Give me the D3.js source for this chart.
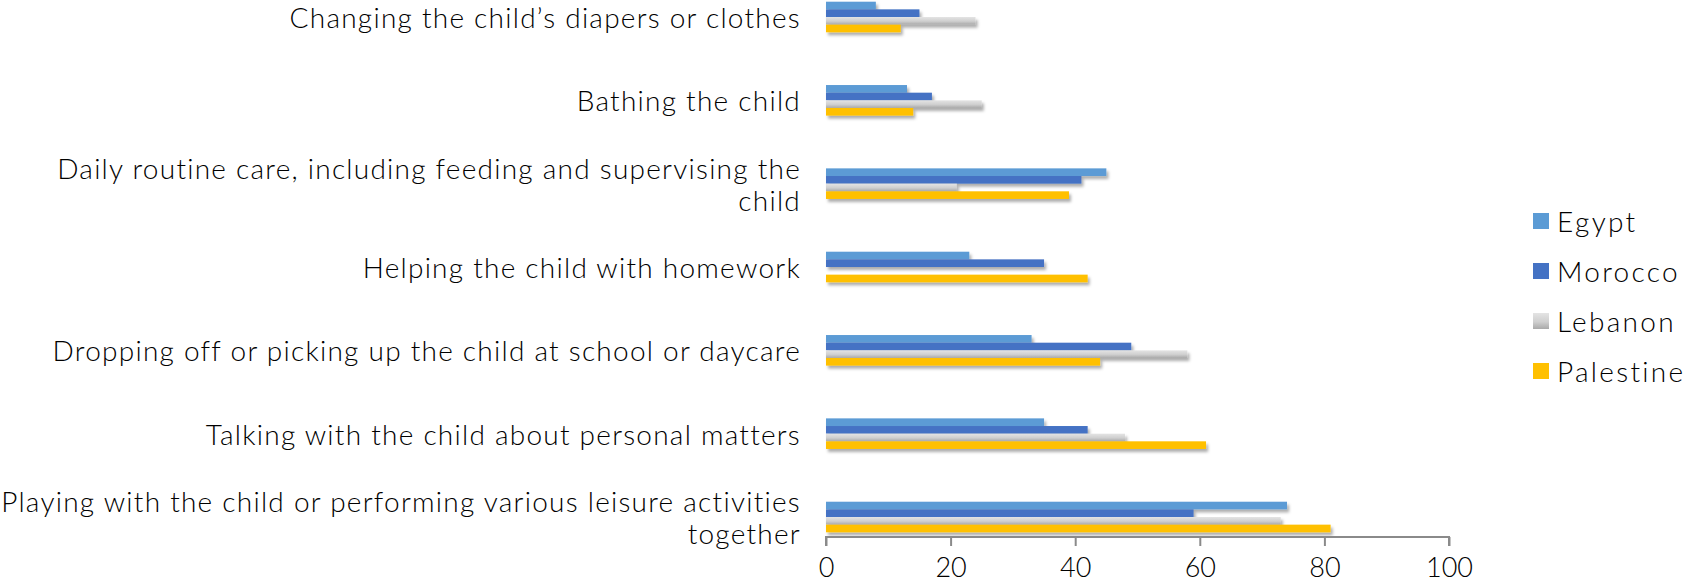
<!DOCTYPE html>
<html>
<head>
<meta charset="utf-8">
<script src="https://cdn.jsdelivr.net/npm/d3@7/dist/d3.min.js"></script>
<style>
  html, body { margin: 0; padding: 0; background: #fff; }
  svg { display: block; }
  text { font-family: Lato, "Open Sans", sans-serif; fill: #000; font-weight: 300; }
</style>
</head>
<body>
<svg id="chart" width="1688" height="587"></svg>
<script>
// Activities shown top to bottom; each label may wrap onto two lines.
const categories = [
  ["Changing the child\u2019s diapers or clothes"],
  ["Bathing the child"],
  ["Daily routine care, including feeding and supervising the", "child"],
  ["Helping the child with homework"],
  ["Dropping off or picking up the child at school or daycare"],
  ["Talking with the child about personal matters"],
  ["Playing with the child or performing various leisure activities", "together"]
];
const seriesNames = ["Egypt", "Morocco", "Lebanon", "Palestine"];
const egypt     = [8, 13, 45, 23, 33, 35, 74];
const morocco   = [15, 17, 41, 35, 49, 42, 59];
const lebanon   = [24, 25, 21, null, 58, 48, 73];
const palestine = [12, 14, 39, 42, 44, 61, 81];
const xTicks = [0, 20, 40, 60, 80, 100];

const seriesValues = [egypt, morocco, lebanon, palestine];
const colors = ["#5B9BD5", "#4472C4", "url(#lebGrad)", "#FFC000"];

const svg = d3.select("#chart");
const defs = svg.append("defs");

// soft drop shadow under each bar
const shadow = defs.append("filter").attr("id", "barShadow")
  .attr("x", "-5%").attr("y", "-50%").attr("width", "115%").attr("height", "250%");
shadow.append("feDropShadow")
  .attr("dx", 2).attr("dy", 3).attr("stdDeviation", 1.6)
  .attr("flood-color", "#000").attr("flood-opacity", 0.32);

// grey gradient fill for Lebanon
const grad = defs.append("linearGradient").attr("id", "lebGrad")
  .attr("x1", 0).attr("y1", 0).attr("x2", 0).attr("y2", 1);
grad.append("stop").attr("offset", "0%").attr("stop-color", "#e4e4e4");
grad.append("stop").attr("offset", "55%").attr("stop-color", "#cfcfcf");
grad.append("stop").attr("offset", "100%").attr("stop-color", "#a9a9a9");

const x = d3.scaleLinear().domain([0, 100]).range([826, 1449]);
const y = d3.scaleBand().domain(d3.range(categories.length))
  .range([1.7, 532.3]).paddingInner(0.633).paddingOuter(0);
const ys = d3.scaleBand().domain(d3.range(seriesNames.length))
  .range([0, y.bandwidth()]).padding(0);

// bars
const groups = svg.append("g").selectAll("g")
  .data(categories.map((c, i) => i))
  .join("g")
  .attr("transform", i => `translate(0,${y(i)})`);

groups.selectAll("rect")
  .data(i => seriesValues.map((vals, s) => ({ s, v: vals[i] })).filter(d => d.v != null))
  .join("rect")
  .attr("x", x(0))
  .attr("y", d => ys(d.s))
  .attr("width", d => x(d.v) - x(0))
  .attr("height", ys.bandwidth())
  .attr("fill", d => colors[d.s])
  .attr("filter", "url(#barShadow)");

// value axis
const axisY = 537;
const axis = d3.axisBottom(x).tickValues(xTicks).tickSize(9).tickPadding(12).tickFormat(d3.format("d"));
const ax = svg.append("g").attr("transform", `translate(0,${axisY})`).call(axis);
ax.select(".domain").attr("stroke", "#8a8a8a").attr("stroke-width", 2)
  .attr("d", `M${x(0)},9V0H${x(100)}V9`);
ax.selectAll(".tick line").attr("stroke", "#8a8a8a").attr("stroke-width", 2);
ax.selectAll(".tick text").attr("font-size", 27).attr("font-family", "Lato, sans-serif")
  .attr("font-weight", 300).attr("fill", "#000");

// category labels, right aligned next to the bars
const labelSize = 28;
const lineGap = 32;
const labels = svg.append("g");
categories.forEach((lines, i) => {
  const cy = y(i) + y.bandwidth() / 2;
  const t = labels.append("text")
    .attr("text-anchor", "end")
    .attr("font-size", labelSize)
    .attr("letter-spacing", 1.25)
    .attr("dominant-baseline", "central");
  lines.forEach((ln, k) => {
    t.append("tspan")
      .attr("x", 801)
      .attr("y", cy + (k - (lines.length - 1) / 2) * lineGap)
      .text(ln);
  });
});

// legend
const legend = svg.append("g");
seriesNames.forEach((name, s) => {
  const cy = 221 + s * 50;
  legend.append("rect")
    .attr("x", 1533).attr("y", cy - 8)
    .attr("width", 16).attr("height", 16)
    .attr("fill", colors[s]);
  legend.append("text")
    .attr("x", 1557).attr("y", cy)
    .attr("dominant-baseline", "central")
    .attr("font-size", 28)
    .attr("letter-spacing", 2.3)
    .text(name);
});
</script>
</body>
</html>
